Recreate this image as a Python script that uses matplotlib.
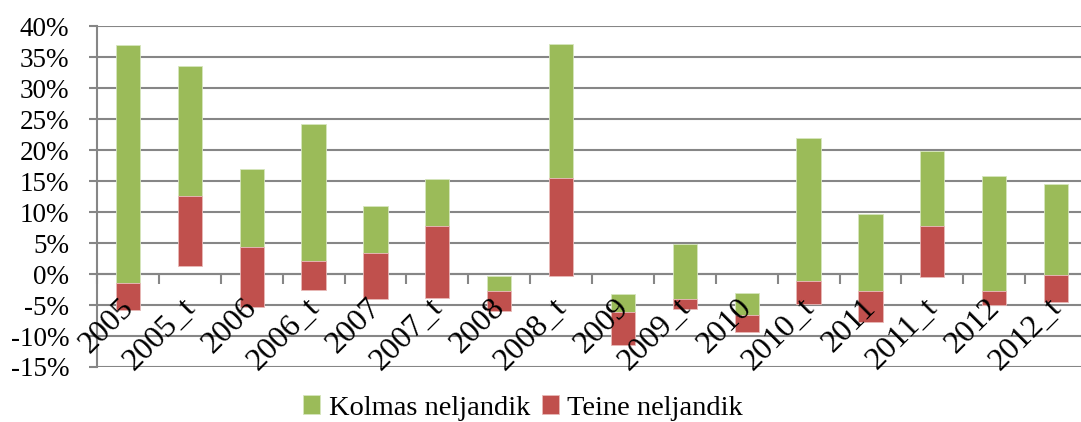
import matplotlib
matplotlib.use("Agg")
import matplotlib.pyplot as plt
from matplotlib.ticker import FixedLocator, FuncFormatter
from matplotlib.transforms import offset_copy
import numpy as np

categories = ["2005", "2005_t", "2006", "2006_t", "2007", "2007_t", "2008", "2008_t",
              "2009", "2009_t", "2010", "2010_t", "2011", "2011_t", "2012", "2012_t"]
# lower edge (first quartile), middle (median), upper edge (third quartile), in %
q1 = [-5.8, 1.3, -5.3, -2.6, -4.1, -3.8, -5.9, -0.4, -11.5, -5.6, -9.4, -4.9, -7.7, -0.5, -5.0, -4.5]
q2 = [-1.4, 12.6, 4.4, 2.1, 3.4, 7.8, -2.7, 15.5, -6.2, -4.0, -6.6, -1.1, -2.7, 7.7, -2.7, -0.2]
q3 = [36.9, 33.5, 17.0, 24.2, 11.0, 15.4, -0.4, 37.1, -3.3, 4.9, -3.0, 22.0, 9.7, 19.8, 15.8, 14.5]
yticks = [-15, -10, -5, 0, 5, 10, 15, 20, 25, 30, 35, 40]

GREEN = "#9BBB59"
RED = "#C0504D"
GRID = "#868686"

plt.rcParams['font.family'] = ['Liberation Serif', 'DejaVu Serif']

fig = plt.figure(figsize=(10.81, 4.22), dpi=100)
W, H = 1081, 422
left, right, top, bottom = 97, 1087, 26, 367
ax = fig.add_axes([left / W, 1 - bottom / H, (right - left) / W, (bottom - top) / H])

x = np.arange(len(categories))
q1a, q2a, q3a = np.array(q1), np.array(q2), np.array(q3)
ax.bar(x, q3a - q2a, bottom=q2a, width=0.39, color=GREEN, edgecolor="#d6e6bd",
       linewidth=0.6, label="Kolmas neljandik", zorder=3)
ax.bar(x, q2a - q1a, bottom=q1a, width=0.39, color=RED, edgecolor="#e8b9b8",
       linewidth=0.6, label="Teine neljandik", zorder=3)

ax.set_ylim(-15, 40)
ax.set_xlim(-0.5, len(categories) - 0.5)
ax.yaxis.set_major_locator(FixedLocator(yticks))
ax.yaxis.set_major_formatter(FuncFormatter(lambda v, p: f"{v:.0f}%"))
ax.grid(axis='y', color=GRID, linewidth=1.5, zorder=0)
ax.set_axisbelow(True)

for s in ['top', 'right']:
    ax.spines[s].set_visible(False)
ax.spines['left'].set_color(GRID)
ax.spines['left'].set_linewidth(1.5)
ax.spines['bottom'].set_position(('data', 0))
ax.spines['bottom'].set_color(GRID)
ax.spines['bottom'].set_linewidth(1.5)

ax.tick_params(axis='y', direction='out', length=6, width=1.5, color=GRID,
               labelsize=19.5, pad=14)
# category boundaries as major ticks (no labels)
ax.set_xticks(np.arange(len(categories) + 1) - 0.5)
ax.set_xticklabels([])
ax.tick_params(axis='x', which='major', direction='out', length=7, width=1.5, color=GRID)

# category labels drawn above the bars
tr = offset_copy(ax.transData, fig=fig, x=-9, y=-19, units='dots')
for i, c in enumerate(categories):
    ax.text(i, 0, c, transform=tr, rotation=45, ha='right', va='top',
            rotation_mode='anchor', fontsize=23, zorder=6, clip_on=False)

handles, labels = ax.get_legend_handles_labels()
fig.legend(handles, labels, loc='center', bbox_to_anchor=(523 / W, 1 - 408 / H), ncol=2,
           frameon=False, fontsize=20.5, handlelength=0.6, handleheight=0.6,
           handletextpad=0.3, columnspacing=0.4)

fig.savefig("out.png", dpi=100)
